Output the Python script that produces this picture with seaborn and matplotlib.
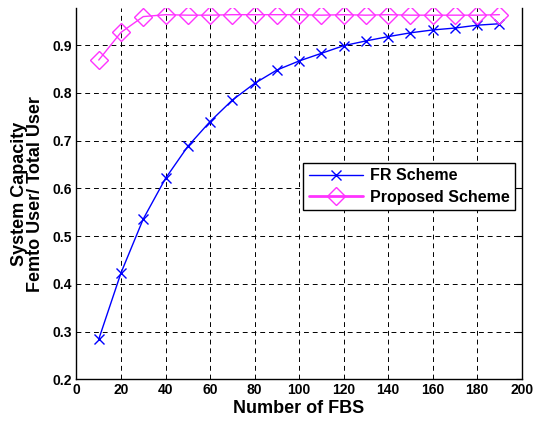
import numpy as np
import pandas as pd
import matplotlib
matplotlib.use("Agg")
import matplotlib.pyplot as plt
import seaborn as sns

# number of femto base stations
num_fbs = [10, 20, 30, 40, 50, 60, 70, 80, 90, 100,
           110, 120, 130, 140, 150, 160, 170, 180, 190]

# femto user / total user
fr_scheme = [0.284, 0.423, 0.536, 0.621, 0.688, 0.740, 0.785, 0.820, 0.848, 0.867,
             0.883, 0.899, 0.909, 0.918, 0.926, 0.932, 0.936, 0.942, 0.945]
proposed_scheme = [0.869, 0.927, 0.960, 0.964, 0.963, 0.963, 0.964, 0.964, 0.964, 0.964,
                   0.963, 0.964, 0.963, 0.964, 0.963, 0.963, 0.963, 0.963, 0.964]

x_ticks = [0, 20, 40, 60, 80, 100, 120, 140, 160, 180, 200]
y_ticks = [0.2, 0.3, 0.4, 0.5, 0.6, 0.7, 0.8, 0.9]


def main():
    sns.set_style("white")
    plt.rcParams['font.family'] = ['Liberation Sans', 'DejaVu Sans']
    plt.rcParams['font.weight'] = 'bold'
    plt.rcParams['text.color'] = 'black'
    plt.rcParams['axes.labelcolor'] = 'black'
    plt.rcParams['xtick.color'] = 'black'
    plt.rcParams['ytick.color'] = 'black'

    df = pd.DataFrame({'fbs': num_fbs, 'fr': fr_scheme, 'prop': proposed_scheme})

    fig = plt.figure(figsize=(5.33, 4.28), dpi=100)
    ax = fig.add_axes([0.1435, 0.1138, 0.8353, 0.8675])
    ax.set_axisbelow(True)

    sns.lineplot(data=df, x='fbs', y='fr', ax=ax, color='#0000ff', lw=1.0,
                 marker='x', markersize=7, markeredgewidth=1.0,
                 markeredgecolor='#0000ff', label='FR Scheme')
    sns.lineplot(data=df, x='fbs', y='prop', ax=ax, color='#ff33ff', lw=1.0,
                 marker='D', markersize=9, markerfacecolor='none',
                 markeredgecolor='#ff33ff', markeredgewidth=1.0,
                 label='Proposed Scheme')

    ax.set_xlim(0, 200)
    ax.set_ylim(0.2, 0.978)
    ax.set_xticks(x_ticks)
    ax.set_yticks(y_ticks)
    ax.set_xticklabels([str(t) for t in x_ticks], fontsize=10, fontweight='bold')
    ax.set_yticklabels([f'{t:.1f}' for t in y_ticks], fontsize=10, fontweight='bold')
    ax.tick_params(direction='in', length=4, width=0.8, color='black',
                   right=True, top=False, pad=3)

    ax.grid(True, color='black', linestyle=(0, (5, 4)), linewidth=0.7)
    for side in ['left', 'right', 'bottom']:
        ax.spines[side].set_color('black')
        ax.spines[side].set_linewidth(1.0)
    ax.spines['top'].set_visible(False)

    ax.set_xlabel('Number of FBS', fontsize=13, fontweight='bold', labelpad=2)
    ax.set_ylabel('System Capacity\nFemto User/ Total User', fontsize=13,
                  fontweight='bold', labelpad=6, linespacing=0.95)

    leg = ax.legend(loc='upper right', bbox_to_anchor=(0.985, 0.583),
                    fontsize=11.5, frameon=True, fancybox=False, framealpha=1,
                    handlelength=3.4, borderpad=0.35, labelspacing=0.4,
                    handletextpad=0.4, borderaxespad=0)
    leg.get_frame().set_edgecolor('black')
    leg.get_frame().set_linewidth(1.0)
    for t in leg.get_texts():
        t.set_fontweight('bold')
        t.set_color('black')
    # the proposed-scheme handle is drawn thicker in the original
    leg.get_lines()[1].set_linewidth(2.0)

    fig.savefig('out.png', dpi=100)


if __name__ == "__main__":
    main()
